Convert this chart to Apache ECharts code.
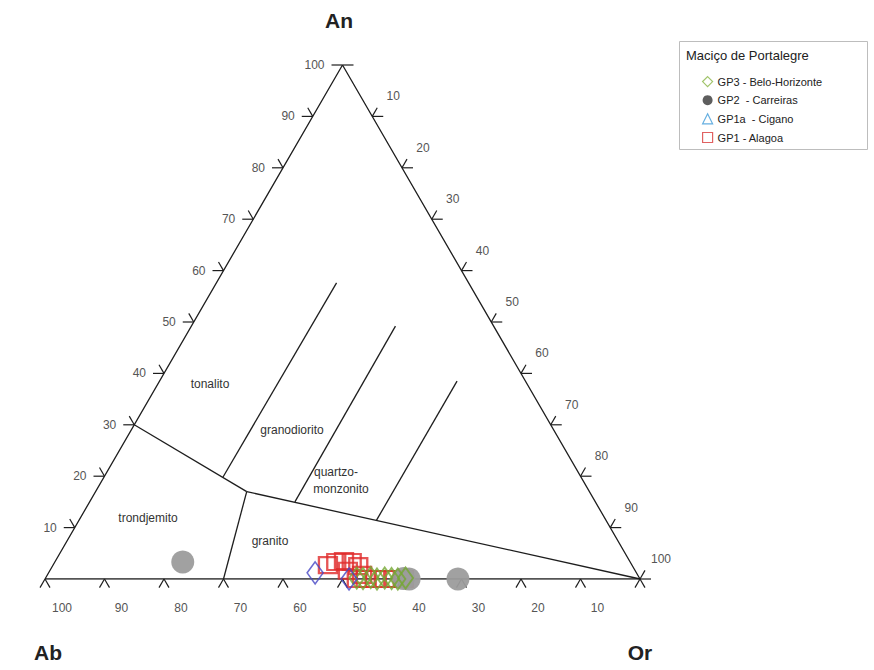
<!DOCTYPE html>
<html>
<head>
<meta charset="utf-8">
<script src="https://cdn.jsdelivr.net/npm/echarts@6/dist/echarts.min.js"></script>
<style>
  html, body { margin: 0; padding: 0; background: #ffffff; }
  #chart { width: 874px; height: 670px; }
</style>
</head>
<body>
<div id="chart"></div>
<script>
// All compositions are [An, Ab, Or] in percent.

// Tick values along each side of the triangle
const anTicks = [10, 20, 30, 40, 50, 60, 70, 80, 90, 100];
const abTicks = [100, 90, 80, 70, 60, 50, 40, 30, 20, 10];
const orTicks = [10, 20, 30, 40, 50, 60, 70, 80, 90, 100];

// Field boundaries (An-Ab-Or classification of granitoids)
const bTonTrond   = [[30, 70, 0], [17, 57.6, 25.4]];
const bBase       = [[17, 57.6, 25.4], [0, 0, 100]];
const bGraTrond   = [[17, 57.6, 25.4], [0, 70, 30]];
const bTonGrd     = [[19.8, 60.2, 20], [57.6, 22.2, 20.2]];
const bGrdQmz     = [[15, 50.5, 34.5], [49.2, 16.5, 34.3]];
const bQmzGra     = [[11.4, 38.6, 50], [38.5, 11.5, 50]];

// Samples
const gp3 = [
  [0.2, 47.5, 52.3], [0.1, 46.5, 53.4], [0.3, 45.1, 54.6], [0.0, 44.2, 55.8],
  [0.2, 42.8, 57.0], [0.1, 41.7, 58.2], [0.0, 40.7, 59.3], [0.2, 39.3, 60.5]
];
const gp2 = [[3.3, 75.2, 21.5], [0.0, 30.6, 69.4], [0.1, 39.7, 60.2], [0.0, 38.8, 61.2]];
const gp1a = [[1.2, 54.0, 44.8], [0.0, 48.9, 51.1]];
const gp1 = [
  [2.7, 51.1, 46.2], [3.3, 49.4, 47.3], [3.5, 48.0, 48.5], [3.3, 46.8, 49.9],
  [2.5, 46.1, 51.4], [1.6, 48.3, 50.1], [0.8, 46.3, 52.9], [0.0, 47.6, 52.4],
  [0.0, 46.1, 53.9], [0.0, 44.5, 55.5], [0.0, 42.9, 57.1], [0.0, 41.2, 58.8],
  [0.0, 39.7, 60.3]
];

const names = {
  gp3: 'GP3 - Belo-Horizonte',
  gp2: 'GP2  - Carreiras',
  gp1a: 'GP1a  - Cigano',
  gp1: 'GP1 - Alagoa'
};

const H = Math.sqrt(3) / 2;
const FONT = '"Liberation Sans", Arial, sans-serif';

// ternary -> cartesian (Ab at origin, Or at x=100, An at apex)
function tern(c) {
  const s = c[0] + c[1] + c[2];
  const an = c[0] * 100 / s, or = c[2] * 100 / s;
  return [or + an / 2, an * H];
}

function lineSeries(pts) {
  return {
    type: 'line', data: pts.map(tern), symbol: 'none', silent: true,
    lineStyle: { color: '#1e1e1e', width: 1.3 }, z: 3, animation: false
  };
}

// tick records: [x, y, side, label]
const tickData = [];
anTicks.forEach(v => tickData.push([...tern([v, 100 - v, 0]), 0, v]));
abTicks.forEach(v => tickData.push([...tern([0, v, 100 - v]), 1, v]));
tickData.push([...tern([0, 0, 100]), 1, -1]);
tickData.push([...tern([100, 0, 0]), 2, -1]);
orTicks.forEach(v => tickData.push([...tern([100 - v, 0, v]), 2, v]));

function renderTick(params, api) {
  const p = api.coord([api.value(0), api.value(1)]);
  const side = api.value(2);
  const v = api.value(3);
  const L = 10;
  let segs = [], tx, ty, align = 'center';
  if (side === 0) {
    segs.push([-11, 0]);
    if (v !== 100) segs.push([-L * 0.5, -L * H]);
    tx = p[0] - 18; ty = p[1]; align = 'right';
  } else if (side === 1) {
    segs.push([-L * 0.5, L * H], [L * 0.5, L * H]);
    tx = p[0] + 17; ty = p[1] + 29;
  } else {
    segs.push([11, 0]);
    if (v !== -1) segs.push([L * 0.5, -L * H]);
    tx = p[0] + 21; ty = p[1] - 20;
  }
  const children = segs.map(d => ({
    type: 'line',
    shape: { x1: p[0], y1: p[1], x2: p[0] + d[0], y2: p[1] + d[1] },
    style: { stroke: '#1e1e1e', lineWidth: 1.2 }
  }));
  if (v >= 0) {
    children.push({
      type: 'text',
      style: {
        text: String(v), x: tx, y: ty, fill: '#555',
        font: '12px ' + FONT, align: align, verticalAlign: 'middle'
      }
    });
  }
  return { type: 'group', children: children };
}

const hollow = (color, w) => ({ color: 'rgba(0,0,0,0)', borderColor: color, borderWidth: w });

const chart = echarts.init(document.getElementById('chart'), null, { renderer: 'svg' });

chart.setOption({
  backgroundColor: '#ffffff',
  animation: false,
  grid: { left: 45, top: 65, width: 595, height: 514 },
  xAxis: { type: 'value', min: 0, max: 100, show: false },
  yAxis: { type: 'value', min: 0, max: 100 * H, show: false },
  legend: {
    orient: 'vertical', left: 702, top: 76, padding: 0,
    itemWidth: 10, itemHeight: 10, itemGap: 7.5,
    textStyle: { fontSize: 11, color: '#222', fontFamily: FONT },
    data: [
      { name: names.gp3, icon: 'diamond', itemStyle: { color: 'rgba(0,0,0,0)', borderColor: '#8ab545', borderWidth: 1.2 } },
      { name: names.gp2, icon: 'circle', itemStyle: { color: '#555', borderWidth: 0 } },
      { name: names.gp1a, icon: 'triangle', itemStyle: { color: 'rgba(0,0,0,0)', borderColor: '#3d9ad8', borderWidth: 1.2 } },
      { name: names.gp1, icon: 'rect', itemStyle: { color: 'rgba(0,0,0,0)', borderColor: '#d83a3a', borderWidth: 1.2 } }
    ]
  },
  graphic: [
    { type: 'rect', left: 679, top: 41, shape: { width: 188, height: 108 },
      style: { fill: '#fff', stroke: '#bdbdbd', lineWidth: 1 }, z: -1 },
    { type: 'text', left: 686, top: 49,
      style: { text: 'Maciço de Portalegre', font: '13px ' + FONT, fill: '#222' } },
    { type: 'text', x: 339, y: 20,
      style: { text: 'An', font: 'bold 21px ' + FONT, fill: '#222', align: 'center', verticalAlign: 'middle' } },
    { type: 'text', x: 48, y: 652,
      style: { text: 'Ab', font: 'bold 21px ' + FONT, fill: '#222', align: 'center', verticalAlign: 'middle' } },
    { type: 'text', x: 640, y: 652,
      style: { text: 'Or', font: 'bold 21px ' + FONT, fill: '#222', align: 'center', verticalAlign: 'middle' } },
    { type: 'text', x: 210, y: 384,
      style: { text: 'tonalito', font: '12px ' + FONT, fill: '#333', align: 'center', verticalAlign: 'middle' } },
    { type: 'text', x: 292, y: 430,
      style: { text: 'granodiorito', font: '12px ' + FONT, fill: '#333', align: 'center', verticalAlign: 'middle' } },
    { type: 'text', x: 336, y: 472,
      style: { text: 'quartzo-', font: '12px ' + FONT, fill: '#333', align: 'center', verticalAlign: 'middle' } },
    { type: 'text', x: 341, y: 489,
      style: { text: 'monzonito', font: '12px ' + FONT, fill: '#333', align: 'center', verticalAlign: 'middle' } },
    { type: 'text', x: 148, y: 518,
      style: { text: 'trondjemito', font: '12px ' + FONT, fill: '#333', align: 'center', verticalAlign: 'middle' } },
    { type: 'text', x: 270, y: 541,
      style: { text: 'granito', font: '12px ' + FONT, fill: '#333', align: 'center', verticalAlign: 'middle' } }
  ],
  series: [
    lineSeries([[0, 100, 0], [0, 0, 100], [100, 0, 0], [0, 100, 0]]),
    lineSeries(bTonTrond),
    lineSeries(bBase),
    lineSeries(bGraTrond),
    lineSeries(bTonGrd),
    lineSeries(bGrdQmz),
    lineSeries(bQmzGra),
    {
      type: 'custom', renderItem: renderTick, data: tickData, clip: false,
      silent: true, z: 4
    },
    {
      name: names.gp1, type: 'scatter', data: gp1.map(tern), symbol: 'rect',
      symbolSize: [18, 16], itemStyle: hollow('#e02a2a', 2.2), z: 5
    },
    {
      name: names.gp2, type: 'scatter', data: gp2.map(tern), symbol: 'circle',
      symbolSize: 23, itemStyle: { color: '#9c9c9c', opacity: 0.95 }, z: 6
    },
    {
      name: names.gp3, type: 'scatter', data: gp3.map(tern), symbol: 'diamond',
      symbolSize: [15, 21], itemStyle: hollow('#74a832', 2), z: 7
    },
    {
      name: names.gp1a, type: 'scatter', data: gp1a.map(tern), symbol: 'diamond',
      symbolSize: [16, 22], itemStyle: hollow('#4646c4', 1.6), z: 8
    }
  ]
});
</script>
</body>
</html>
